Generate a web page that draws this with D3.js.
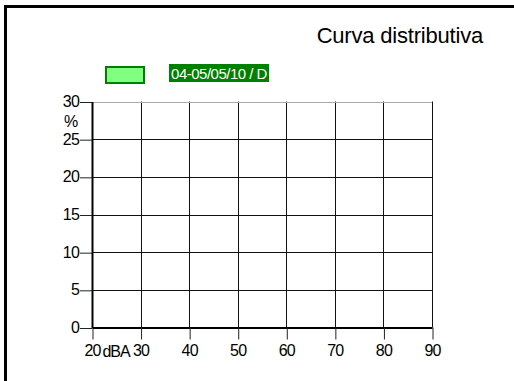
<!DOCTYPE html>
<html><head><meta charset="utf-8">
<script src="https://cdn.jsdelivr.net/npm/d3@7"></script>
<style>
html,body{margin:0;padding:0;background:#fff;}
svg{display:block;font-family:"Liberation Sans",Arial,sans-serif;}
</style></head>
<body>
<script>
const title = "Curva distributiva";
const seriesNames = ["04-05/05/10 / D"];
const seriesValues = [[]]; // no data points drawn in the reference
const xTicks = [20, 30, 40, 50, 60, 70, 80, 90];
const yTicks = [0, 5, 10, 15, 20, 25, 30];
const xUnit = "dBA";
const yUnit = "%";

const W = 514, H = 381;
const svg = d3.select("body").append("svg").attr("width", W).attr("height", H);
svg.append("rect").attr("width", W).attr("height", H).attr("fill", "#fff");

// outer frame
svg.append("rect").attr("x", 5.5).attr("y", 6.5).attr("width", 530).attr("height", 400)
  .attr("fill", "none").attr("stroke", "#000").attr("stroke-width", 3);

const x = d3.scaleLinear().domain([20, 90]).range([92, 432]);
const y = d3.scaleLinear().domain([0, 30]).range([327.5, 101.5]);

// grid
const g = svg.append("g");
g.selectAll("line.v").data(xTicks.slice(1)).join("line")
  .attr("x1", d => Math.round(x(d)) + 0.5).attr("x2", d => Math.round(x(d)) + 0.5)
  .attr("y1", y(30)).attr("y2", y(0)).attr("stroke", "#111").attr("stroke-width", 1);
g.selectAll("line.h").data(yTicks.slice(1)).join("line")
  .attr("x1", x(20)).attr("x2", x(90))
  .attr("y1", d => Math.round(y(d)) + 0.5).attr("y2", d => Math.round(y(d)) + 0.5)
  .attr("stroke", d => d === 30 ? "#aaa" : "#111").attr("stroke-width", 1);

// axes
const xAxis = d3.axisBottom(x).tickValues(xTicks).tickSize(12).tickPadding(5).tickSizeOuter(0);
const yAxis = d3.axisLeft(y).tickValues(yTicks).tickSize(12).tickPadding(1).tickSizeOuter(0);

const gx = svg.append("g").attr("transform", `translate(0,${y(0)})`).call(xAxis);
const gy = svg.append("g").attr("transform", `translate(${x(20)},0)`).call(yAxis);
[gx, gy].forEach(a => {
  a.attr("font-size", null).attr("font-family", null);
  a.select(".domain").attr("stroke", "#000").attr("stroke-width", 2);
  a.selectAll(".tick line").attr("stroke", "#222").attr("stroke-width", 1);
  a.selectAll(".tick text").attr("fill", "#000").style("font-size", "16px")
    .style("letter-spacing", "-0.8px").style("font-family", "'Liberation Sans',Arial,sans-serif");
});
gx.selectAll(".tick line").attr("transform", "translate(0.5,0)");
gy.selectAll(".tick line").attr("transform", "translate(0,0.5)");

// unit labels
svg.append("text").attr("x", 116).attr("y", 357).attr("text-anchor", "middle")
  .style("font-size", "16px").style("letter-spacing", "-1px").text(xUnit);
svg.append("text").attr("x", 71).attr("y", 127).attr("text-anchor", "middle")
  .style("font-size", "16px").text(yUnit);

// title
svg.append("text").attr("x", 483).attr("y", 43).attr("text-anchor", "end")
  .style("font-size", "22px").style("letter-spacing", "-0.2px").text(title);

// legend
const lg = svg.append("g");
seriesNames.forEach((name, i) => {
  lg.append("rect").attr("x", 106).attr("y", 67).attr("width", 38).attr("height", 16)
    .attr("fill", "#80ff80").attr("stroke", "#008000").attr("stroke-width", 2);
  lg.append("rect").attr("x", 169).attr("y", 64).attr("width", 100).attr("height", 18)
    .attr("fill", "#008000");
  lg.append("text").attr("x", 219).attr("y", 79).attr("text-anchor", "middle")
    .attr("fill", "#fff").style("font-size", "15px").style("letter-spacing", "-0.5px").text(name);
});

// series (empty in reference)
const line = d3.line().x(d => x(d[0])).y(d => y(d[1]));
svg.selectAll("path.series").data(seriesValues).join("path").attr("class", "series")
  .attr("d", d => d.length ? line(d) : null).attr("fill", "none").attr("stroke", "#008000");
</script>
</body></html>
